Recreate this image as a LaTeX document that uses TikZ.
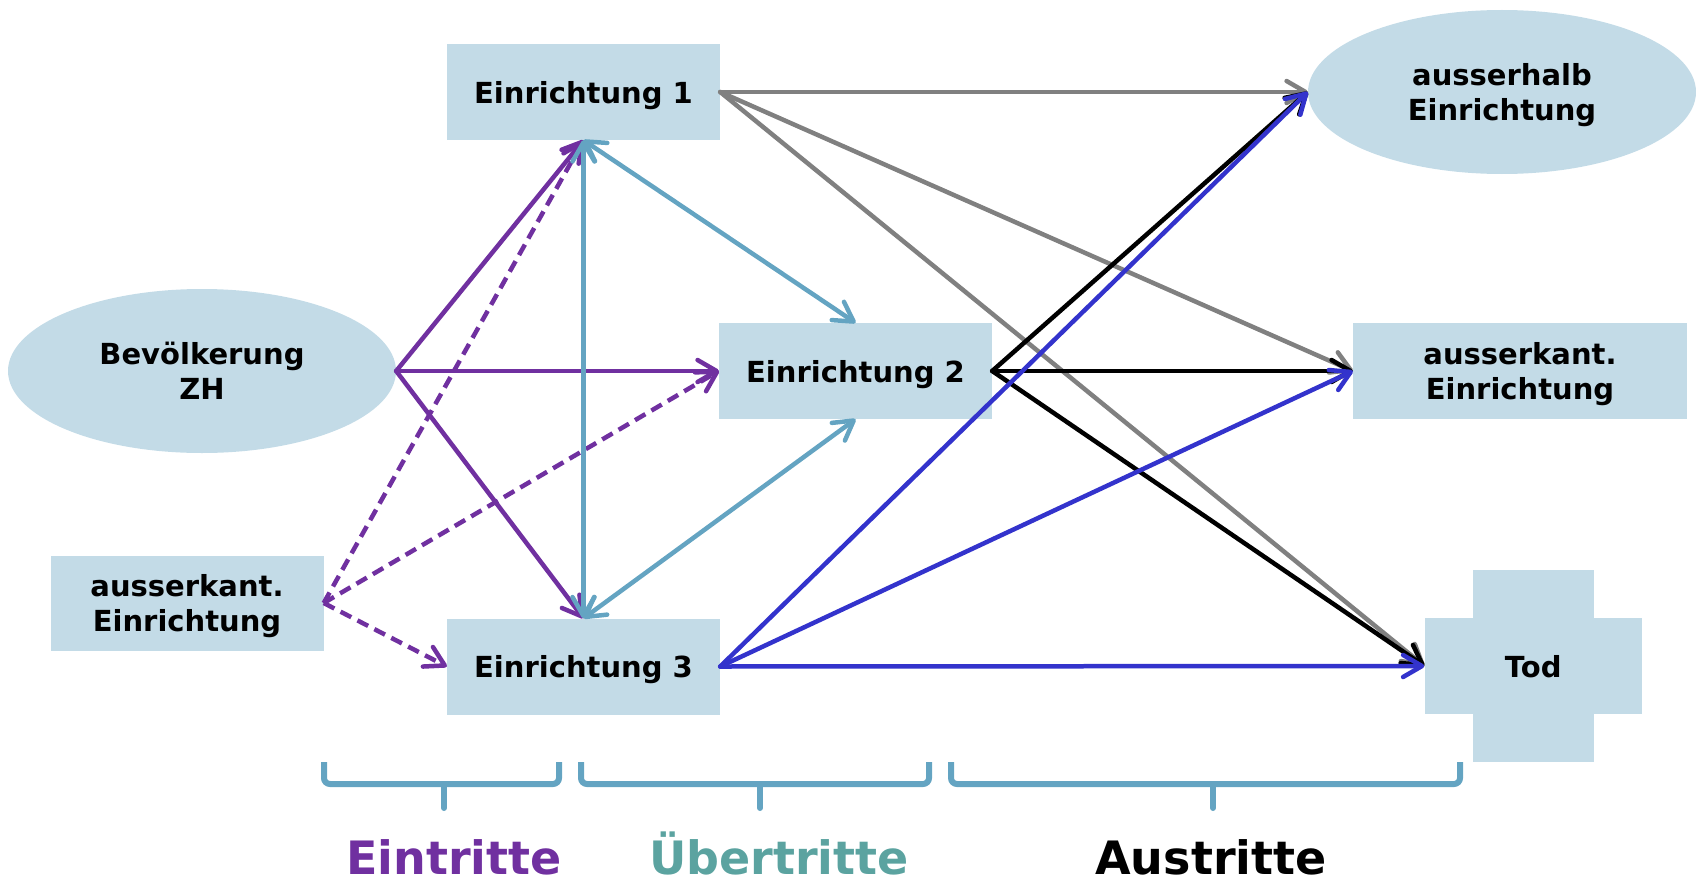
\documentclass[tikz,border=0pt]{standalone}
\usepackage{fontspec}
\setmainfont{DejaVu Sans}
\usetikzlibrary{arrows.meta,shapes.geometric}
\definecolor{nodefill}{HTML}{C3DBE7}
\definecolor{lila}{HTML}{7030A0}
\definecolor{steel}{HTML}{64A4C2}
\definecolor{tealtxt}{HTML}{5BA3A0}
\definecolor{grayline}{HTML}{808080}
\definecolor{blueline}{HTML}{3333CC}
\begin{document}
\begin{tikzpicture}[x=1pt,y=-1pt,
  box/.style={rectangle, fill=nodefill, inner sep=0pt, align=center, text depth=0pt,
    font=\fontsize{29}{35}\selectfont\bfseries},
  oval/.style={ellipse, fill=nodefill, inner sep=0pt, align=center, text depth=0pt,
    minimum width=388pt, minimum height=164pt,
    font=\fontsize{29}{35}\selectfont\bfseries},
  tipa/.tip={Straight Barb[length=19pt,width=22pt,round]},
  conn/.style={line width=4.5pt, line cap=round, line join=round, -tipa},
  dconn/.style={line width=4.5pt, line cap=round, line join=round, tipa-tipa},
  dashconn/.style={conn, line cap=butt, dash pattern=on 12pt off 7pt},
  brace/.style={line width=6pt, draw=steel, rounded corners=6pt},
  lbl/.style={font=\fontsize{46}{50}\selectfont\bfseries, inner sep=0pt, anchor=base, text depth=0pt}
]
\useasboundingbox (0,0) rectangle (1696,880);

% nodes
\node[box, minimum width=273pt, minimum height=96pt] (e1) at (583.5,92) {Einrichtung 1};
\node[box, minimum width=273pt, minimum height=96pt] (e2) at (855.5,371) {Einrichtung 2};
\node[box, minimum width=273pt, minimum height=96pt] (e3) at (583.5,666.5) {Einrichtung 3};
\node[oval] (bev) at (202,371) {Bevölkerung\\ZH};
\node[box, minimum width=273pt, minimum height=95pt] (akl) at (187,603) {ausserkant.\\Einrichtung};
\node[oval] (ah) at (1502,92) {ausserhalb\\Einrichtung};
\node[box, minimum width=334pt, minimum height=96pt] (akr) at (1520,371) {ausserkant.\\Einrichtung};
\fill[nodefill] (1473,570) rectangle (1594,762);
\node[box, minimum width=217.5pt, minimum height=96pt] (tod) at (1533.25,666) {Tod};

% Eintritte (purple)
\draw[conn, lila] (bev.east) -- (e1.south);
\draw[conn, lila] (bev.east) -- (e2.west);
\draw[conn, lila] (bev.east) -- (e3.north);
\draw[dashconn, lila] (akl.east) -- (e1.south);
\draw[dashconn, lila] (akl.east) -- (e2.west);
\draw[dashconn, lila] (akl.east) -- (e3.west);

% Uebertritte (steel blue)
\draw[dconn, steel] (e1.south) -- (e3.north);
\draw[dconn, steel] (e1.south) -- (e2.north);
\draw[dconn, steel] (e2.south) -- (e3.north);

% Austritte
\draw[conn, grayline] (e1.east) -- (ah.west);
\draw[conn, grayline] (e1.east) -- (akr.west);
\draw[conn, grayline] (e1.east) -- (tod.west);
\draw[conn, black] (e2.east) -- (ah.west);
\draw[conn, black] (e2.east) -- (akr.west);
\draw[conn, black] (e2.east) -- (tod.west);
\draw[conn, blueline] (e3.east) -- (ah.west);
\draw[conn, blueline] (e3.east) -- (akr.west);
\draw[conn, blueline] (e3.east) -- (tod.west);

% braces
\draw[brace] (324,762) -- (324,784) -- (559,784) -- (559,762);
\draw[brace, line cap=round] (444,784) -- (444,808);
\draw[brace] (581,762) -- (581,784) -- (929,784) -- (929,762);
\draw[brace, line cap=round] (760,784) -- (760,808);
\draw[brace] (951,762) -- (951,784) -- (1460,784) -- (1460,762);
\draw[brace, line cap=round] (1213,784) -- (1213,808);

% labels
\node[lbl, text=lila] (l1) at (454,874) {Eintritte};
\node[lbl, text=tealtxt] (l2) at (779,874) {Übertritte};
\node[lbl, text=black] (l3) at (1211,874) {Austritte};
\end{tikzpicture}
\end{document}
